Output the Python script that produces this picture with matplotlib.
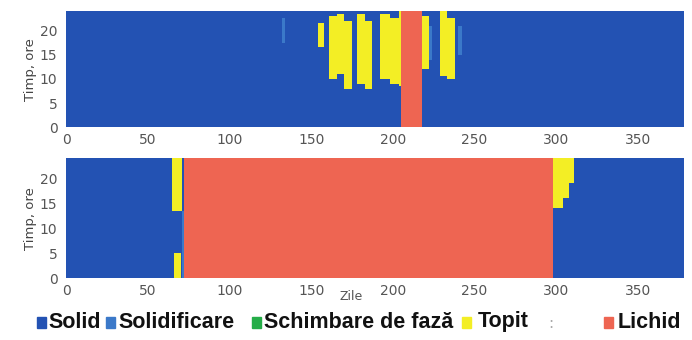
import numpy as np
import matplotlib.pyplot as plt
from matplotlib.colors import ListedColormap
from matplotlib.patches import Rectangle

# state codes: 0 solid, 1 solidificare, 2 schimbare de faza, 3 topit, 4 lichid
state_names = ["Solid", "Solidificare", "Schimbare de fază", "Topit", "Lichid"]
state_colors = ["#2352b3", "#3b79c9", "#25ad48", "#f3ee25", "#ee6552"]

days_max = 378
hour_step = 0.5

# segments: (day start, day end, hour start, hour end, state)
top_segments = [
    (132, 134, 17.5, 22.5, 1),
    (154, 158, 16.5, 21.5, 3),
    (161, 166, 10.0, 23.0, 3),
    (166, 170, 11.0, 23.5, 3),
    (170, 175, 8.0, 22.0, 3),
    (178, 183, 9.0, 23.5, 3),
    (183, 187, 8.0, 22.0, 3),
    (192, 198, 10.0, 23.5, 3),
    (198, 204, 9.0, 22.5, 3),
    (204, 206, 8.5, 24.0, 3),
    (205, 218, 0.0, 24.0, 4),
    (218, 222, 12.0, 23.0, 3),
    (222, 224, 14.0, 21.0, 1),
    (229, 233, 10.5, 24.0, 3),
    (233, 238, 10.0, 22.5, 3),
    (240, 242, 15.0, 21.0, 1),
]

bottom_segments = [
    (65, 71, 13.5, 24.0, 3),
    (66, 70, 0.0, 5.0, 3),
    (71, 72, 0.0, 13.5, 1),
    (72, 298, 0.0, 24.0, 4),
    (298, 304, 14.0, 24.0, 3),
    (304, 308, 16.0, 24.0, 3),
    (308, 311, 19.0, 24.0, 3),
]


def build_grid(segments):
    day_edges = np.arange(0, days_max + 1)
    hour_edges = np.arange(0, 24 + hour_step, hour_step)
    grid = np.zeros((len(hour_edges) - 1, len(day_edges) - 1))
    for d0, d1, h0, h1, s in segments:
        rows = (hour_edges[:-1] >= h0) & (hour_edges[:-1] < h1)
        cols = (day_edges[:-1] >= d0) & (day_edges[:-1] < d1)
        grid[np.ix_(rows, cols)] = s
    return day_edges, hour_edges, grid


cmap = ListedColormap(state_colors)
fig = plt.figure(figsize=(6.92, 3.40), dpi=100)
ax_top = fig.add_axes([0.091, 0.626, 0.897, 0.341])
ax_bot = fig.add_axes([0.091, 0.182, 0.897, 0.353])

for ax, segs in [(ax_top, top_segments), (ax_bot, bottom_segments)]:
    x, y, g = build_grid(segs)
    ax.pcolormesh(x, y, g, cmap=cmap, vmin=-0.5, vmax=4.5, shading="flat")
    ax.set_xlim(-2, days_max)
    ax.set_ylim(0, 24)
    ax.set_xticks(range(0, 351, 50))
    ax.set_yticks(range(0, 21, 5))
    ax.tick_params(labelsize=10, labelcolor="#555555", length=0, pad=4)
    ax.set_ylabel("Timp, ore", fontsize=9.5, color="#444444", labelpad=2)
    for sp in ax.spines.values():
        sp.set_visible(False)

ax_bot.set_xlabel("Zile", fontsize=9, color="#555555")
ax_bot.xaxis.set_label_coords(0.465, -0.10)

# legend drawn by hand to match the layout (pixel positions of marker / text)
legend_y = 1 - 322 / 340
marker_px = [37, 106, 252, 462, 604]
text_px = [48, 118, 264, 478, 618]
for mx, tx, name, col in zip(marker_px, text_px, state_names, state_colors):
    fig.patches.append(Rectangle((mx / 692, legend_y - 0.017), 9 / 692, 0.032,
                                 transform=fig.transFigure, color=col, figure=fig))
    fig.text(tx / 692, legend_y, name, fontsize=15.5, fontweight="bold",
             family="Liberation Sans", va="center", ha="left", color="#111111")
fig.text(548 / 692, legend_y - 0.005, ":", fontsize=11, color="#aaaaaa",
         va="center", ha="left")

plt.savefig("out.png", dpi=100)
